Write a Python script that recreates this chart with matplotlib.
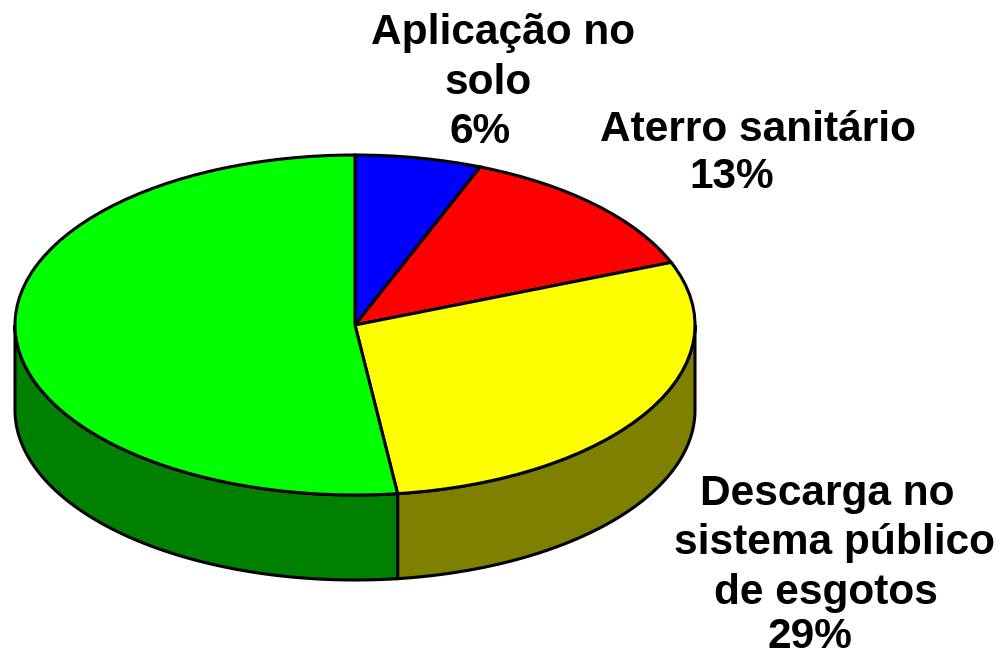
import numpy as np
from matplotlib import pyplot as plt

#%% Data
values = [6, 13, 29, 52]
top_colors = ["#0000ff", "#ff0000", "#ffff00", "#00ff00"]
side_colors = ["#000080", "#800000", "#808000", "#008000"]
label_lines = ["Aplicação no", "solo", "6%",
               "Aterro sanitário", "13%",
               "Descarga no", "sistema público", "de esgotos", "29%"]

#%% Layout, in pixels of the reference
W, H = 1003, 655
cx, cy = 355, 325
rx = 340
squash = 0.5
depth = 85
# the lines of one label are not centred on each other in the original
line_pos = [(503, 33), (488, 83), (480, 132),
            (758, 130), (732, 177),
            (827, 494), (835, 543), (826, 593), (810, 637)]

fig = plt.figure(figsize=(W / 100, H / 100), dpi=100)
ax = fig.add_axes([0, 0, 1, 1])

# pie is round in data units, the y axis squashes it
wedges, _ = ax.pie(values, colors=top_colors, startangle=90, counterclock=False,
                   center=(cx, 0), radius=rx, wedgeprops={"edgecolor": "black", "linewidth": 2.2, "zorder": 3})
ax.set_aspect("auto")
ax.set_xlim(0, W)
ax.set_ylim(-(H - cy) / squash, cy / squash)
ax.axis("off")

#%% Side wall, only the front half of the rim shows
ends = np.cumsum(values) / sum(values) * 360
starts = np.concatenate([[0], ends[:-1]])
for a0, a1, col in zip(starts, ends, side_colors):
    a0, a1 = max(a0, 90), min(a1, 270)
    if a1 <= a0:
        continue
    t = np.radians(np.linspace(a0, a1, 80))
    x = cx + rx * np.sin(t)
    y = rx * np.cos(t)
    low = y - depth / squash
    ax.fill(np.r_[x, x[::-1]], np.r_[y, low[::-1]], facecolor=col, edgecolor="black", linewidth=2.2, zorder=2)

#%% Labels
for lab, (px, py) in zip(label_lines, line_pos):
    ax.text(px, (cy - py) / squash, lab, ha="center", va="center", family="Liberation Sans",
            fontweight="bold", fontsize=30.5, color="black", zorder=5)

fig.savefig("out.png", dpi=100)
